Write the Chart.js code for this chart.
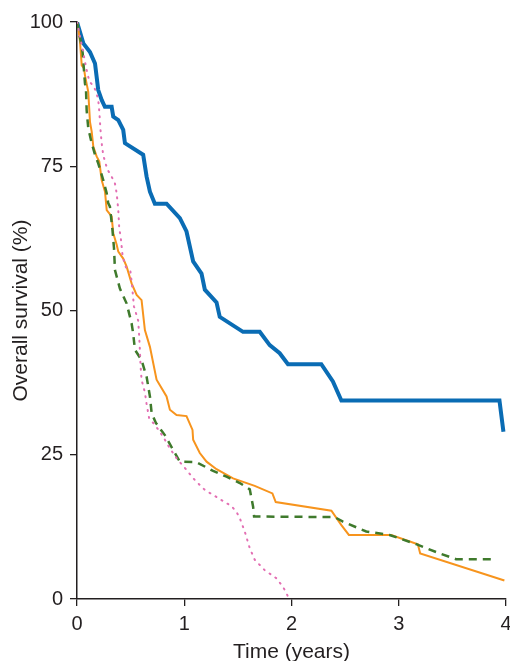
<!DOCTYPE html>
<html>
<head>
<meta charset="utf-8">
<script src="https://cdn.jsdelivr.net/npm/chart.js@4/dist/chart.umd.min.js"></script>
<style>
    html, body { margin: 0; padding: 0; background: #fff; overflow: hidden; }
    #wrap { width: 520px; height: 668px; }
</style>
</head>
<body>
<div id="wrap"><canvas id="survChart" width="520" height="668"></canvas></div>
<script>
// Kaplan-Meier curves (time in years, survival in %)
const blueTime = [0, 0.059, 0.121, 0.168, 0.183, 0.198, 0.23, 0.26, 0.323, 0.338, 0.385, 0.431, 0.447, 0.617, 0.649, 0.68, 0.726, 0.835, 0.959, 1.021, 1.083, 1.161, 1.192, 1.301, 1.331, 1.548, 1.704, 1.797, 1.89, 1.967, 2.278, 2.386, 2.465, 3.939, 3.976];
const blueSurv = [100, 96.3, 94.8, 92.8, 90.5, 88.2, 86.5, 85.3, 85.3, 83.6, 83.0, 81.3, 79.0, 77.0, 73.2, 70.6, 68.5, 68.5, 66.0, 63.7, 58.5, 56.4, 53.6, 51.4, 48.9, 46.3, 46.3, 44.0, 42.6, 40.7, 40.7, 37.7, 34.4, 34.4, 29.0];

const orangeTime = [0, 0.012, 0.028, 0.044, 0.065, 0.074, 0.105, 0.121, 0.137, 0.152, 0.183, 0.208, 0.23, 0.261, 0.277, 0.323, 0.338, 0.37, 0.385, 0.431, 0.463, 0.509, 0.556, 0.602, 0.633, 0.68, 0.742, 0.835, 0.866, 0.928, 1.021, 1.077, 1.083, 1.145, 1.208, 1.301, 1.455, 1.657, 1.822, 1.853, 2.372, 2.465, 2.535, 2.93, 3.178, 3.2, 3.985];
const orangeSurv = [100, 98.9, 96.6, 92.5, 92.0, 90.8, 87.9, 82.7, 81.0, 78.4, 76.7, 75.8, 72.6, 70.6, 67.4, 66.3, 63.4, 61.4, 60.2, 59.0, 57.6, 54.7, 52.7, 51.8, 46.6, 43.7, 38.0, 35.1, 32.8, 31.9, 31.7, 29.3, 27.6, 25.3, 23.8, 22.5, 20.9, 19.6, 18.3, 16.8, 15.3, 12.8, 11.1, 11.1, 9.5, 7.9, 3.2];

const greenTime = [0, 0.044, 0.053, 0.074, 0.084, 0.09, 0.105, 0.137, 0.168, 0.198, 0.245, 0.277, 0.291, 0.307, 0.331, 0.345, 0.354, 0.4, 0.463, 0.509, 0.524, 0.54, 0.602, 0.649, 0.68, 0.696, 0.736, 0.819, 0.897, 0.959, 1.115, 1.269, 1.394, 1.518, 1.611, 1.642, 1.651, 2.402, 2.48, 2.697, 2.914, 3.163, 3.38, 3.535, 3.908];
const greenSurv = [100, 95.7, 94.6, 89.4, 88.2, 84.7, 81.6, 79.0, 77.0, 75.5, 72.6, 70.3, 68.6, 68.0, 63.9, 60.8, 57.0, 53.8, 51.2, 47.8, 46.0, 43.2, 41.4, 38.5, 35.1, 32.2, 30.5, 28.4, 25.8, 23.8, 23.7, 22.2, 21.2, 20.1, 19.0, 16.0, 14.3, 14.2, 13.4, 11.7, 11.1, 9.5, 7.9, 6.9, 6.9];

const pinkTime = [0, 0.044, 0.09, 0.115, 0.158, 0.183, 0.198, 0.208, 0.219, 0.23, 0.245, 0.282, 0.323, 0.354, 0.37, 0.385, 0.394, 0.407, 0.426, 0.456, 0.498, 0.512, 0.531, 0.571, 0.58, 0.587, 0.593, 0.602, 0.633, 0.649, 0.673, 0.726, 0.804, 0.866, 0.928, 1.006, 1.099, 1.192, 1.316, 1.44, 1.487, 1.518, 1.564, 1.611, 1.657, 1.75, 1.859, 1.921, 1.953, 1.977];
const pinkSurv = [100, 96.0, 91.7, 89.7, 88.8, 87.6, 86.5, 84.5, 81.3, 79.0, 76.9, 74.5, 73.2, 72.0, 70.3, 67.4, 64.2, 62.8, 59.3, 57.5, 56.8, 54.6, 50.7, 48.2, 45.5, 42.9, 40.3, 38.0, 35.8, 33.8, 31.3, 30.2, 28.1, 26.1, 24.4, 22.7, 20.6, 18.9, 17.5, 16.1, 15.1, 14.0, 11.7, 8.8, 6.8, 5.0, 3.6, 2.1, 1.0, 0];

const xTicks = [0, 1, 2, 3, 4];
const yTicks = [0, 25, 50, 75, 100];

const textColor = '#231f20';
const tickFont = { family: "'Liberation Sans', Arial, sans-serif", size: 20 };
const titleFont = { family: "'Liberation Sans', Arial, sans-serif", size: 21 };

function toPoints(times, values) {
    return times.map((t, i) => ({ x: t, y: values[i] }));
}

function makeSeries(label, times, values, color, width, dash) {
    return {
        label,
        data: toPoints(times, values),
        borderColor: color,
        borderWidth: width,
        borderDash: dash,
        borderCapStyle: dash.length && width < 2.5 ? 'round' : 'butt',
        pointRadius: 0,
        tension: 0,
        fill: false
    };
}

const ctx = document.getElementById('survChart').getContext('2d');
new Chart(ctx, {
    type: 'line',
    data: {
        datasets: [
            makeSeries('Pink', pinkTime, pinkSurv, '#e36fb3', 2, [1, 6]),
            makeSeries('Green', greenTime, greenSurv, '#3f7a2c', 2.5, [8, 6]),
            makeSeries('Orange', orangeTime, orangeSurv, '#f7941d', 2, []),
            makeSeries('Blue', blueTime, blueSurv, '#0a6cb4', 4, [])
        ]
    },
    options: {
        responsive: false,
        animation: false,
        layout: { padding: { left: 0, right: 14, top: 22, bottom: 3 } },
        plugins: { legend: { display: false }, tooltip: { enabled: false } },
        scales: {
            x: {
                type: 'linear',
                min: 0,
                max: 4,
                afterBuildTicks: s => { s.ticks = xTicks.map(v => ({ value: v })); },
                afterFit: s => { s.height = 66; },
                grid: { display: true, drawOnChartArea: false, drawTicks: true, tickLength: 7, color: textColor, lineWidth: 1.3 },
                border: { display: true, color: textColor, width: 1.5 },
                ticks: { color: textColor, font: tickFont, padding: 6, maxRotation: 0 },
                title: { display: true, text: 'Time (years)', color: textColor, font: titleFont, padding: { top: 0, bottom: 0 } }
            },
            y: {
                min: 0,
                max: 100,
                afterBuildTicks: s => { s.ticks = yTicks.map(v => ({ value: v })); },
                afterFit: s => { s.width = 77; },
                grid: { display: true, drawOnChartArea: false, drawTicks: true, tickLength: 7, color: textColor, lineWidth: 1.3 },
                border: { display: true, color: textColor, width: 1.5 },
                ticks: { color: textColor, font: tickFont, padding: 7 },
                title: { display: true, text: 'Overall survival (%)', color: textColor, font: titleFont, padding: { top: 9, bottom: 0 } }
            }
        }
    }
});
</script>
</body>
</html>
